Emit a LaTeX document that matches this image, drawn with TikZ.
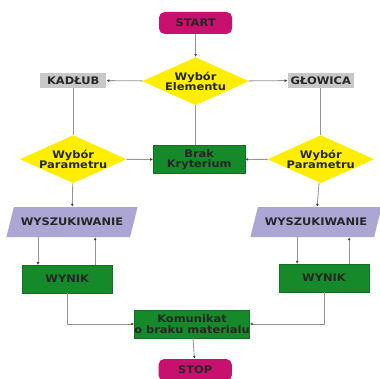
\documentclass[tikz,border=0pt]{standalone}
\usepackage{fontspec}
\setmainfont[FakeStretch=1.1]{DejaVu Sans}
\usepackage{tikz}
\usetikzlibrary{positioning,arrows.meta,shapes.geometric,calc}
\definecolor{startpink}{RGB}{200,16,110}
\definecolor{decyellow}{RGB}{255,238,0}
\definecolor{boxgreen}{RGB}{22,138,42}
\definecolor{elgray}{RGB}{200,200,200}
\definecolor{searchlilac}{RGB}{172,166,212}
\definecolor{linegray}{RGB}{150,150,150}

\begin{document}
\begin{tikzpicture}[
  font=\bfseries\fontsize{7.4}{7.3}\selectfont,
  text=black!85,
  termnode/.style={rectangle, rounded corners=4pt, fill=startpink, minimum width=1.83cm, minimum height=0.55cm, inner sep=1pt},
  decnode/.style={diamond, fill=decyellow, aspect=2.3, minimum width=2.67cm, minimum height=1.2cm, inner xsep=-4pt, inner ysep=-2pt, align=center},
  elnode/.style={rectangle, fill=elgray, minimum width=1.65cm, minimum height=0.38cm, inner sep=1pt},
  procnode/.style={rectangle, fill=boxgreen, draw=boxgreen!80!black, line width=0.3pt, minimum height=0.7cm, inner xsep=0pt, inner ysep=1pt, align=center},
  searchnode/.style={trapezium, trapezium left angle=55, trapezium right angle=125, trapezium stretches body, fill=searchlilac, minimum width=3.28cm, minimum height=0.75cm, inner sep=1pt},
  flow/.style={draw=linegray, line width=0.6pt, -{Latex[length=2pt,width=2pt,color=black!75]}},
  flowline/.style={draw=linegray, line width=0.6pt}
]
  \useasboundingbox[fill=white] (0,0) rectangle (9.475,-9.475);
  % terminals and decisions
  \node[termnode] (start) at (4.89,-0.575) {START};
  \node[decnode] (elem) at (4.89,-2.03) {Wybór\\Elementu};
  \node[elnode] (kadlub) at (1.83,-2.01) {KADŁUB};
  \node[elnode] (glowica) at (8.02,-2.01) {GŁOWICA};
  \node[decnode] (parL) at (1.83,-3.98) {Wybór\\Parametru};
  \node[decnode] (parR) at (8.02,-3.98) {Wybór\\Parametru};
  \node[procnode, minimum width=2.3cm] (brak) at (4.98,-3.99) {Brak\\Kryterium};
  % search and result
  \node[searchnode] (wyszL) at (1.80,-5.55) {WYSZUKIWANIE};
  \node[searchnode] (wyszR) at (7.90,-5.55) {WYSZUKIWANIE};
  \node[procnode, minimum width=2.25cm] (wynikL) at (1.68,-6.98) {WYNIK};
  \node[procnode, minimum width=2.25cm] (wynikR) at (8.10,-6.95) {WYNIK};
  \node[procnode, minimum width=2.8cm] (komunikat) at (4.80,-8.1) {Komunikat\\o braku materialu};
  \node[termnode] (stop) at (4.88,-9.25) {STOP};

  \draw[flow] (start) -- (elem);
  \draw[flow] (elem) -- (kadlub);
  \draw[flow] (elem) -- (glowica);
  \draw[flowline] (elem.south) -- (elem.south |- brak.north);
  \draw[flowline] (kadlub) -- (parL);
  \draw[flowline] (glowica) -- (parR);
  \draw[flow] (parL) -- (brak);
  \draw[flow] (parR) -- (brak);
  \draw[flow] (parL) -- (wyszL);
  \draw[flow] (parR) -- (wyszR);
  % two-way links between search and result
  \coordinate (dnL) at ($(wyszL.south)+(-0.85,0)$);
  \coordinate (upL) at ($(wynikL.north)+(0.70,0)$);
  \coordinate (dnR) at ($(wyszR.south)+(-0.47,0)$);
  \coordinate (upR) at ($(wynikR.north)+(0.63,0)$);
  \draw[flow] (dnL) -- (dnL |- wynikL.north);
  \draw[flow] (upL) -- (upL |- wyszL.south);
  \draw[flow] (dnR) -- (dnR |- wynikR.north);
  \draw[flow] (upR) -- (upR |- wyszR.south);
  \draw[flow] (wynikL.south) |- (komunikat.west);
  \draw[flow] (wynikR.south) |- (komunikat.east);
  \draw[flow] (komunikat) -- (stop);
\end{tikzpicture}
\end{document}
